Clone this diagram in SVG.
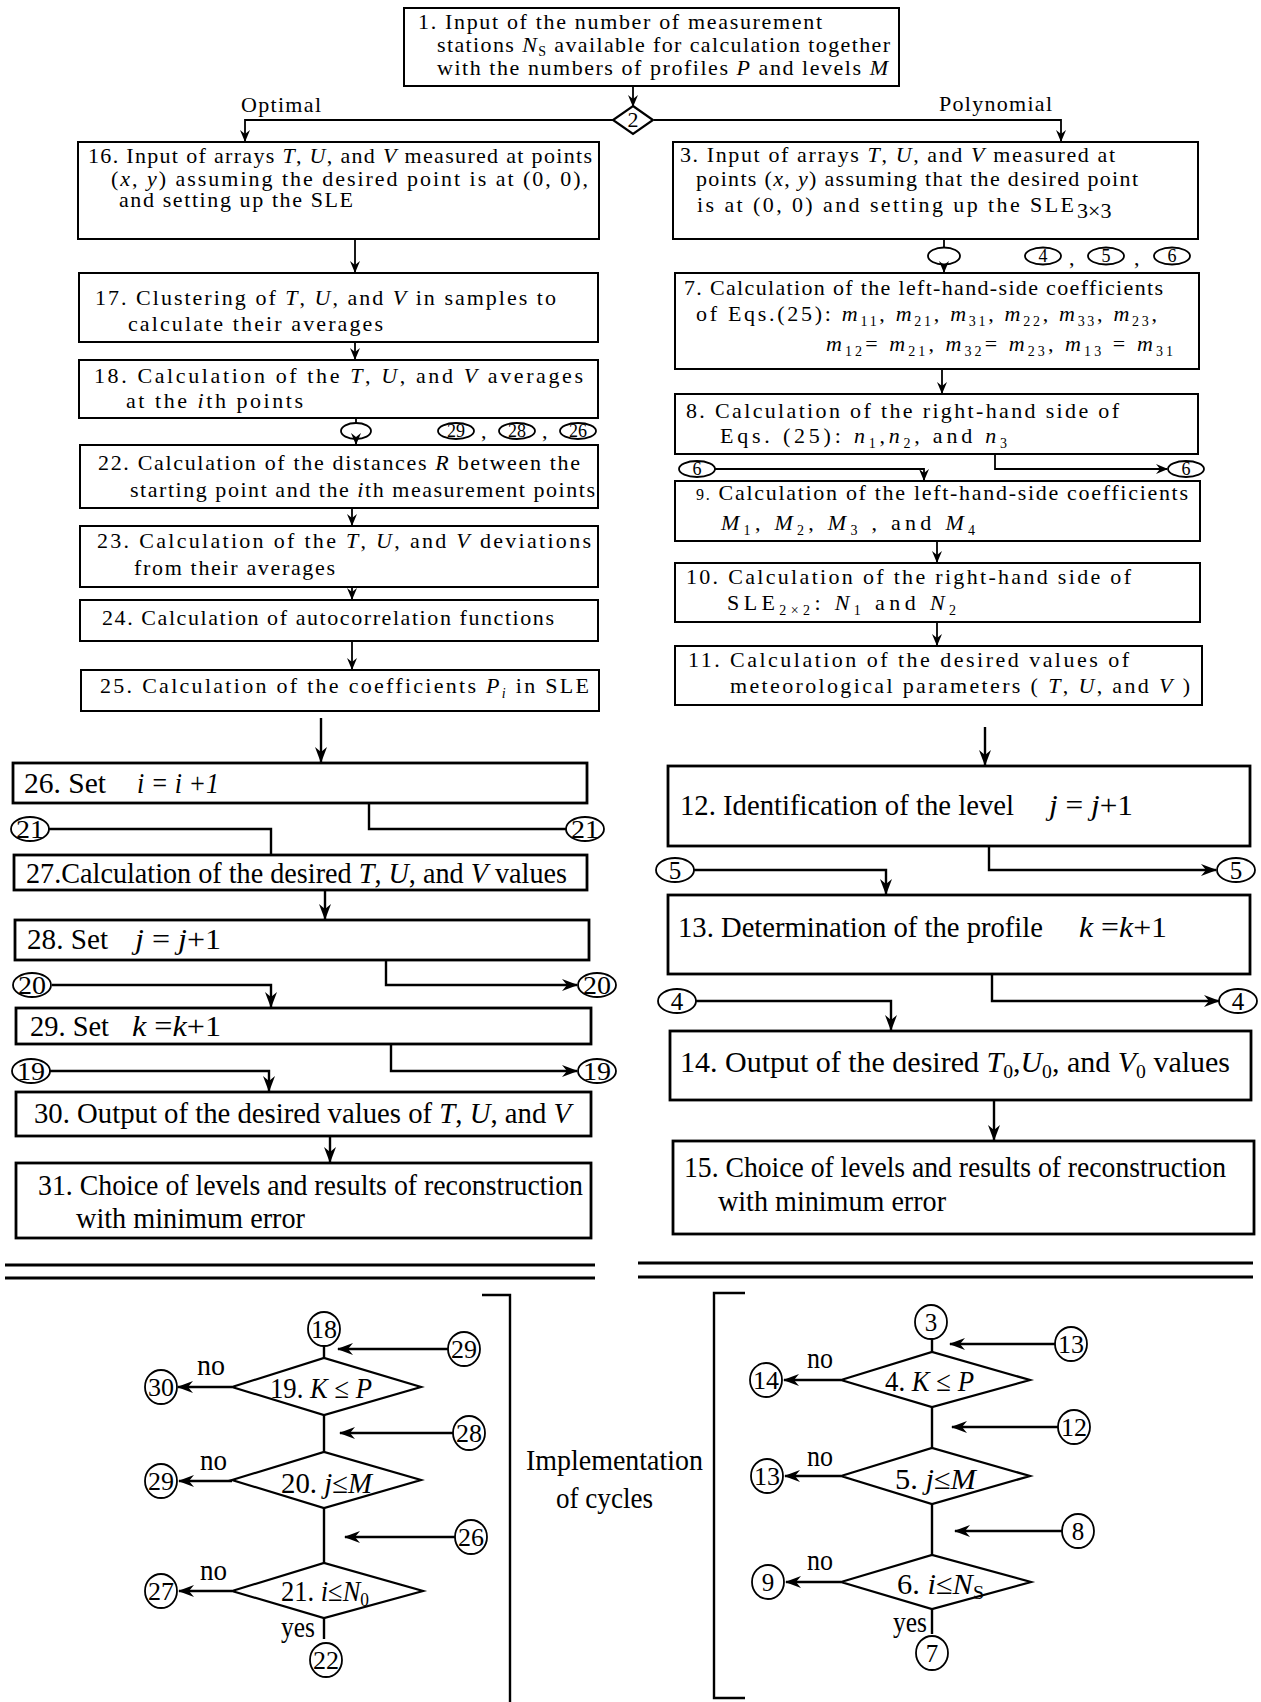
<svg xmlns="http://www.w3.org/2000/svg" width="1261" height="1702" viewBox="0 0 1261 1702" xml:space="preserve">
<style>
.b{fill:none;stroke:#000;stroke-width:2}
.bb{fill:none;stroke:#000;stroke-width:2.8}
.c{fill:none;stroke:#000;stroke-width:1.8}
.l{fill:none;stroke:#000;stroke-width:1.8}
.lb{fill:none;stroke:#000;stroke-width:2.4}
.d{fill:#fff;stroke:#000;stroke-width:2.2}
.t{font-family:"Liberation Serif",serif;font-size:22px;fill:#000}
.tl{font-family:"Liberation Serif",serif;font-size:29px;fill:#000}
.tc{font-family:"Liberation Serif",serif;font-size:25px;fill:#000;text-anchor:middle}
.ts{font-family:"Liberation Serif",serif;font-size:18px;fill:#000;text-anchor:middle}
.i{font-style:italic}
.s{font-size:14px}
.sl{font-size:19px}
</style>
<defs>
<marker id="a" markerWidth="12" markerHeight="10" refX="11" refY="5" orient="auto" markerUnits="userSpaceOnUse"><path d="M0,0 L12,5 L0,10 L4,5 z" fill="#000"/></marker>
<marker id="ab" markerWidth="16" markerHeight="12" refX="15" refY="6" orient="auto" markerUnits="userSpaceOnUse"><path d="M0,0 L16,6 L0,12 L5,6 z" fill="#000"/></marker>
</defs>

<g id="connectors">
<line class="l" x1="633" y1="86" x2="633" y2="106" marker-end="url(#a)"/>
<polyline class="l" points="613,120 245,120 245,141" marker-end="url(#a)"/>
<polyline class="l" points="654,120 1061,120 1061,141" marker-end="url(#a)"/>
<line class="l" x1="355" y1="239" x2="355" y2="272" marker-end="url(#a)"/>
<line class="l" x1="355" y1="342" x2="355" y2="359" marker-end="url(#a)"/>
<line class="l" x1="356" y1="418" x2="356" y2="423"/>
<line class="l" x1="356" y1="439" x2="356" y2="444" marker-end="url(#a)"/>
<line class="l" x1="352" y1="508" x2="352" y2="525" marker-end="url(#a)"/>
<line class="l" x1="352" y1="587" x2="352" y2="599" marker-end="url(#a)"/>
<line class="l" x1="352" y1="641" x2="352" y2="669" marker-end="url(#a)"/>
<line class="lb" x1="321" y1="718" x2="321" y2="762" marker-end="url(#ab)"/>
<polyline class="lb" points="49,829 271,829 271,855"/>
<polyline class="lb" points="369,803 369,829 566,829"/>
<line class="lb" x1="325" y1="890" x2="325" y2="919" marker-end="url(#ab)"/>
<polyline class="lb" points="52,985 271,985 271,1007" marker-end="url(#ab)"/>
<polyline class="lb" points="386,960 386,985 577,985" marker-end="url(#ab)"/>
<polyline class="lb" points="50,1071 269,1071 269,1091" marker-end="url(#ab)"/>
<polyline class="lb" points="391,1044 391,1071 577,1071" marker-end="url(#ab)"/>
<line class="lb" x1="330" y1="1136" x2="330" y2="1162" marker-end="url(#ab)"/>
<line class="l" x1="944" y1="239" x2="944" y2="247"/>
<line class="l" x1="944" y1="264" x2="944" y2="272" marker-end="url(#a)"/>
<line class="l" x1="942" y1="369" x2="942" y2="393" marker-end="url(#a)"/>
<polyline class="l" points="715,469 924,469 924,480" marker-end="url(#a)"/>
<polyline class="l" points="995,454 995,469 1167,469" marker-end="url(#a)"/>
<line class="l" x1="937" y1="541" x2="937" y2="562" marker-end="url(#a)"/>
<line class="l" x1="937" y1="622" x2="937" y2="645" marker-end="url(#a)"/>
<line class="lb" x1="985" y1="727" x2="985" y2="765" marker-end="url(#ab)"/>
<polyline class="lb" points="694,870 886,870 886,894" marker-end="url(#ab)"/>
<polyline class="lb" points="989,846 989,870 1216,870" marker-end="url(#ab)"/>
<polyline class="lb" points="696,1001 891,1001 891,1030" marker-end="url(#ab)"/>
<polyline class="lb" points="992,974 992,1001 1219,1001" marker-end="url(#ab)"/>
<line class="lb" x1="994" y1="1100" x2="994" y2="1140" marker-end="url(#ab)"/>
<line x1="5" y1="1265" x2="595" y2="1265" stroke="#000" stroke-width="3"/>
<line x1="5" y1="1278" x2="595" y2="1278" stroke="#000" stroke-width="3"/>
<line x1="638" y1="1263" x2="1253" y2="1263" stroke="#000" stroke-width="3"/>
<line x1="638" y1="1277" x2="1253" y2="1277" stroke="#000" stroke-width="3"/>
<polyline class="lb" points="482,1295 510,1295 510,1702"/>
<polyline class="lb" points="745,1293 714,1293 714,1698 745,1698"/>
<line class="lb" x1="324" y1="1346" x2="324" y2="1358"/>
<line class="lb" x1="324" y1="1415" x2="324" y2="1452"/>
<line class="lb" x1="324" y1="1508" x2="324" y2="1563"/>
<line class="lb" x1="324" y1="1618" x2="324" y2="1639"/>
<line class="lb" x1="448" y1="1349" x2="338" y2="1349" marker-end="url(#ab)"/>
<line class="lb" x1="453" y1="1433" x2="340" y2="1433" marker-end="url(#ab)"/>
<line class="lb" x1="455" y1="1537" x2="345" y2="1537" marker-end="url(#ab)"/>
<line class="lb" x1="232" y1="1387" x2="178" y2="1387" marker-end="url(#ab)"/>
<line class="lb" x1="232" y1="1481" x2="179" y2="1481" marker-end="url(#ab)"/>
<line class="lb" x1="232" y1="1591" x2="179" y2="1591" marker-end="url(#ab)"/>
<line class="lb" x1="932" y1="1339" x2="932" y2="1352"/>
<line class="lb" x1="932" y1="1407" x2="932" y2="1448"/>
<line class="lb" x1="932" y1="1504" x2="932" y2="1555"/>
<line class="lb" x1="932" y1="1609" x2="932" y2="1634"/>
<line class="lb" x1="1055" y1="1344" x2="950" y2="1344" marker-end="url(#ab)"/>
<line class="lb" x1="1058" y1="1427" x2="952" y2="1427" marker-end="url(#ab)"/>
<line class="lb" x1="1062" y1="1531" x2="955" y2="1531" marker-end="url(#ab)"/>
<line class="lb" x1="841" y1="1380" x2="784" y2="1380" marker-end="url(#ab)"/>
<line class="lb" x1="841" y1="1476" x2="785" y2="1476" marker-end="url(#ab)"/>
<line class="lb" x1="841" y1="1582" x2="786" y2="1582" marker-end="url(#ab)"/>
</g>

<text class="t" x="241" y="112" textLength="80">Optimal</text>
<text class="t" x="939" y="111" textLength="113">Polynomial</text>

<g id="n1"><rect class="b" x="404" y="8" width="495" height="78"/>
<text class="t" x="418" y="29" font-size="20" textLength="404">1. Input of  the number of  measurement</text>
<text class="t" x="437" y="52" font-size="20" textLength="453">stations <tspan class="i">N</tspan><tspan class="s" dy="4">S</tspan><tspan dy="-4"> available  for calculation together</tspan></text>
<text class="t" x="437" y="75" font-size="20" textLength="451">with the numbers of profiles <tspan class="i">P</tspan> and levels <tspan class="i">M</tspan></text></g>

<g id="n2"><polygon class="d" points="633,106 653,120 633,134 613,120"/><text class="t" x="633" y="127" text-anchor="middle" font-size="17">2</text></g>

<g id="n16"><rect class="b" x="78" y="142" width="521" height="97"/>
<text class="t" x="88" y="163" textLength="504">16. Input of arrays <tspan class="i">T</tspan>, <tspan class="i">U</tspan>, and <tspan class="i">V</tspan> measured at points</text>
<text class="t" x="111" y="186" textLength="477">(<tspan class="i">x</tspan>, <tspan class="i">y</tspan>) assuming the desired  point is at  (0, 0),</text>
<text class="t" x="119" y="207" textLength="234">and setting up the SLE</text></g>

<g id="n3"><rect class="b" x="673" y="142" width="525" height="97"/>
<text class="t" x="680" y="162" textLength="435">3. Input of arrays <tspan class="i">T</tspan>, <tspan class="i">U</tspan>, and <tspan class="i">V</tspan> measured at</text>
<text class="t" x="696" y="186" textLength="442">points (<tspan class="i">x</tspan>, <tspan class="i">y</tspan>) assuming that the desired point</text>
<text class="t" x="697" y="212" textLength="377">is at (0, 0) and setting up   the   SLE</text>
<text class="t" x="1077" y="218" font-size="16">3×3</text></g>

<g id="n17"><rect class="b" x="79" y="273" width="519" height="69"/>
<text class="t" x="95" y="305" textLength="461">17. Clustering of  <tspan class="i">T</tspan>, <tspan class="i">U</tspan>, and <tspan class="i">V</tspan>   in   samples   to</text>
<text class="t" x="128" y="331" textLength="255">calculate   their   averages</text></g>

<g id="n18"><rect class="b" x="79" y="360" width="519" height="58"/>
<text class="t" x="94" y="383" textLength="489">18. Calculation of  the <tspan class="i">T</tspan>,  <tspan class="i">U</tspan>,  and  <tspan class="i">V</tspan>   averages</text>
<text class="t" x="126" y="408" textLength="177">at the   <tspan class="i">i</tspan>th points</text></g>

<g id="j18"><ellipse class="c" cx="356" cy="431" rx="15" ry="8"/></g>
<g id="r29"><ellipse class="c" cx="456" cy="431" rx="18" ry="8"/><text class="ts" x="456" y="437">29</text></g>
<text class="t" x="481" y="438">,</text>
<g id="r28"><ellipse class="c" cx="517" cy="431" rx="18" ry="8"/><text class="ts" x="517" y="437">28</text></g>
<text class="t" x="542" y="438">,</text>
<g id="r26"><ellipse class="c" cx="578" cy="431" rx="18" ry="8"/><text class="ts" x="578" y="437">26</text></g>

<g id="n22"><rect class="b" x="80" y="445" width="518" height="63"/>
<text class="t" x="98" y="470" textLength="482">22. Calculation of the distances <tspan class="i">R</tspan>  between the</text>
<text class="t" x="130" y="497" textLength="465">starting point and the <tspan class="i">i</tspan>th measurement points</text></g>

<g id="n23"><rect class="b" x="80" y="526" width="518" height="61"/>
<text class="t" x="97" y="548" textLength="494">23. Calculation  of  the <tspan class="i">T</tspan>,  <tspan class="i">U</tspan>,  and  <tspan class="i">V</tspan>  deviations</text>
<text class="t" x="134" y="575" textLength="201">from their  averages</text></g>

<g id="n24"><rect class="b" x="80" y="600" width="518" height="41"/>
<text class="t" x="102" y="625" textLength="452">24. Calculation of autocorrelation  functions</text></g>

<g id="n25"><rect class="b" x="81" y="670" width="518" height="41"/>
<text class="t" x="100" y="693" textLength="489">25. Calculation  of  the coefficients <tspan class="i">P</tspan><tspan class="s i" dy="5">i</tspan><tspan dy="-5">  in  SLE</tspan></text></g>

<g id="n7"><rect class="b" x="675" y="273" width="524" height="96"/>
<text class="t" x="684" y="295" textLength="479">7. Calculation of the left-hand-side coefficients</text>
<text class="t" x="696" y="321" textLength="461">of Eqs.(25): <tspan class="i">m</tspan><tspan class="s" dy="5">11</tspan><tspan dy="-5">, </tspan><tspan class="i">m</tspan><tspan class="s" dy="5">21</tspan><tspan dy="-5">, </tspan><tspan class="i">m</tspan><tspan class="s" dy="5">31</tspan><tspan dy="-5">, </tspan><tspan class="i">m</tspan><tspan class="s" dy="5">22</tspan><tspan dy="-5">, </tspan><tspan class="i">m</tspan><tspan class="s" dy="5">33</tspan><tspan dy="-5">, </tspan><tspan class="i">m</tspan><tspan class="s" dy="5">23</tspan><tspan dy="-5">,</tspan></text>
<text class="t" x="826" y="351" textLength="347"><tspan class="i">m</tspan><tspan class="s" dy="5">12</tspan><tspan dy="-5">= </tspan><tspan class="i">m</tspan><tspan class="s" dy="5">21</tspan><tspan dy="-5">,   </tspan><tspan class="i">m</tspan><tspan class="s" dy="5">32</tspan><tspan dy="-5">= </tspan><tspan class="i">m</tspan><tspan class="s" dy="5">23</tspan><tspan dy="-5">,   </tspan><tspan class="i">m</tspan><tspan class="s" dy="5">13</tspan><tspan dy="-5"> = </tspan><tspan class="i">m</tspan><tspan class="s" dy="5">31</tspan></text></g>

<g id="j3"><ellipse class="c" cx="944" cy="256" rx="16" ry="8.5"/></g>
<g id="r4"><ellipse class="c" cx="1043" cy="256" rx="18" ry="8.5"/><text class="ts" x="1043" y="262">4</text></g>
<text class="t" x="1069" y="265">,</text>
<g id="r5"><ellipse class="c" cx="1106" cy="256" rx="18" ry="8.5"/><text class="ts" x="1106" y="262">5</text></g>
<text class="t" x="1134" y="265">,</text>
<g id="r6"><ellipse class="c" cx="1172" cy="256" rx="18" ry="8.5"/><text class="ts" x="1172" y="262">6</text></g>

<g id="n8"><rect class="b" x="675" y="394" width="523" height="60"/>
<text class="t" x="686" y="418" textLength="433">8. Calculation of the right-hand side of</text>
<text class="t" x="720" y="443" textLength="287">Eqs. (25):   <tspan class="i">n</tspan><tspan class="s" dy="5">1</tspan><tspan dy="-5">,</tspan><tspan class="i">n</tspan><tspan class="s" dy="5">2</tspan><tspan dy="-5">,  and  </tspan><tspan class="i">n</tspan><tspan class="s" dy="5">3</tspan></text></g>

<g id="c6l"><ellipse class="c" cx="697" cy="469" rx="18" ry="8"/><text class="ts" x="697" y="475">6</text></g>
<g id="c6r"><ellipse class="c" cx="1186" cy="469" rx="18" ry="8"/><text class="ts" x="1186" y="475">6</text></g>

<g id="n9"><rect class="b" x="675" y="481" width="525" height="60"/>
<text class="t" x="696" y="500" textLength="492"><tspan font-size="16">9.</tspan> Calculation of the  left-hand-side  coefficients</text>
<text class="t" x="721" y="530" textLength="254"><tspan class="i">M</tspan><tspan class="s" dy="5">1</tspan><tspan dy="-5">, </tspan><tspan class="i">M</tspan><tspan class="s" dy="5">2</tspan><tspan dy="-5">, </tspan><tspan class="i">M</tspan><tspan class="s" dy="5">3</tspan><tspan dy="-5"> ,   and   </tspan><tspan class="i">M</tspan><tspan class="s" dy="5">4</tspan></text></g>

<g id="n10"><rect class="b" x="675" y="563" width="525" height="59"/>
<text class="t" x="686" y="584" textLength="445">10. Calculation of the right-hand side of</text>
<text class="t" x="727" y="610" textLength="229">SLE<tspan class="s" dy="5">2×2</tspan><tspan dy="-5">: </tspan><tspan class="i">N</tspan><tspan class="s" dy="5">1</tspan><tspan dy="-5">   and  </tspan><tspan class="i">N</tspan><tspan class="s" dy="5">2</tspan></text></g>

<g id="n11"><rect class="b" x="675" y="646" width="527" height="59"/>
<text class="t" x="688" y="667" textLength="441">11. Calculation of the desired  values of</text>
<text class="t" x="730" y="693" textLength="460">meteorological parameters ( <tspan class="i">T</tspan>, <tspan class="i">U</tspan>,  and  <tspan class="i">V</tspan> )</text></g>

<g id="n26"><rect class="bb" x="13" y="763" width="574" height="40"/>
<text class="tl" x="24" y="793" textLength="82" lengthAdjust="spacingAndGlyphs">26.  Set</text>
<text class="tl i" x="137" y="793" textLength="82" lengthAdjust="spacingAndGlyphs">i = i +1</text></g>
<g id="c21l"><ellipse class="c" cx="30" cy="829" rx="19" ry="12"/><text class="tc" x="30" y="838" textLength="28" lengthAdjust="spacingAndGlyphs">21</text></g>
<g id="c21r"><ellipse class="c" cx="585" cy="829" rx="19" ry="12"/><text class="tc" x="585" y="838" textLength="28" lengthAdjust="spacingAndGlyphs">21</text></g>

<g id="n27"><rect class="bb" x="14" y="855" width="573" height="35"/>
<text class="tl" x="26" y="883" textLength="541" lengthAdjust="spacingAndGlyphs">27.Calculation of the desired  <tspan class="i">T</tspan>, <tspan class="i">U</tspan>, and <tspan class="i">V</tspan> values</text></g>

<g id="n28"><rect class="bb" x="15" y="920" width="574" height="40"/>
<text class="tl" x="27" y="949" textLength="81" lengthAdjust="spacingAndGlyphs">28.  Set</text>
<text class="tl" x="135" y="949" textLength="86" lengthAdjust="spacingAndGlyphs"><tspan class="i">j</tspan> = <tspan class="i">j</tspan>+1</text></g>
<g id="c20l"><ellipse class="c" cx="32" cy="985" rx="19" ry="12"/><text class="tc" x="32" y="994" textLength="28" lengthAdjust="spacingAndGlyphs">20</text></g>
<g id="c20r"><ellipse class="c" cx="597" cy="985" rx="19" ry="12"/><text class="tc" x="597" y="994" textLength="28" lengthAdjust="spacingAndGlyphs">20</text></g>

<g id="n29"><rect class="bb" x="16" y="1008" width="575" height="36"/>
<text class="tl" x="30" y="1036" textLength="79" lengthAdjust="spacingAndGlyphs">29.  Set</text>
<text class="tl" x="132" y="1036" textLength="89" lengthAdjust="spacingAndGlyphs"><tspan class="i">k</tspan> =<tspan class="i">k</tspan>+1</text></g>
<g id="c19l"><ellipse class="c" cx="31" cy="1071" rx="19" ry="12"/><text class="tc" x="31" y="1080" textLength="28" lengthAdjust="spacingAndGlyphs">19</text></g>
<g id="c19r"><ellipse class="c" cx="597" cy="1071" rx="19" ry="12"/><text class="tc" x="597" y="1080" textLength="28" lengthAdjust="spacingAndGlyphs">19</text></g>

<g id="n30"><rect class="bb" x="16" y="1092" width="575" height="44"/>
<text class="tl" x="34" y="1123" textLength="537" lengthAdjust="spacingAndGlyphs">30. Output of the desired values  of  <tspan class="i">T</tspan>, <tspan class="i">U</tspan>, and <tspan class="i">V</tspan></text></g>

<g id="n31"><rect class="bb" x="16" y="1163" width="575" height="75"/>
<text class="tl" x="38" y="1195" textLength="545" lengthAdjust="spacingAndGlyphs">31. Choice of levels and results of reconstruction</text>
<text class="tl" x="76" y="1228" textLength="229" lengthAdjust="spacingAndGlyphs">with minimum error</text></g>

<g id="n12"><rect class="bb" x="668" y="766" width="582" height="80"/>
<text class="tl" x="680" y="815" textLength="334" lengthAdjust="spacingAndGlyphs">12.  Identification of the  level</text>
<text class="tl" x="1049" y="815" textLength="84" lengthAdjust="spacingAndGlyphs"><tspan class="i">j</tspan> = <tspan class="i">j</tspan>+1</text></g>
<g id="c5l"><ellipse class="c" cx="675" cy="870" rx="19" ry="12"/><text class="tc" x="675" y="879">5</text></g>
<g id="c5r"><ellipse class="c" cx="1236" cy="870" rx="19" ry="12"/><text class="tc" x="1236" y="879">5</text></g>

<g id="n13"><rect class="bb" x="668" y="895" width="582" height="79"/>
<text class="tl" x="678" y="937" textLength="365" lengthAdjust="spacingAndGlyphs">13. Determination of the  profile</text>
<text class="tl" x="1079" y="937" textLength="88" lengthAdjust="spacingAndGlyphs"><tspan class="i">k</tspan> =<tspan class="i">k</tspan>+1</text></g>
<g id="c4l"><ellipse class="c" cx="677" cy="1001" rx="19" ry="12"/><text class="tc" x="677" y="1010">4</text></g>
<g id="c4r"><ellipse class="c" cx="1238" cy="1001" rx="19" ry="12"/><text class="tc" x="1238" y="1010">4</text></g>

<g id="n14"><rect class="bb" x="670" y="1031" width="581" height="69"/>
<text class="tl" x="680" y="1072" textLength="550" lengthAdjust="spacingAndGlyphs">14. Output of the desired  <tspan class="i">T</tspan><tspan class="sl" dy="6">0</tspan><tspan dy="-6">,</tspan><tspan class="i">U</tspan><tspan class="sl" dy="6">0</tspan><tspan dy="-6">, and   </tspan><tspan class="i">V</tspan><tspan class="sl" dy="6">0</tspan><tspan dy="-6">  values</tspan></text></g>

<g id="n15"><rect class="bb" x="673" y="1141" width="581" height="93"/>
<text class="tl" x="684" y="1177" textLength="542" lengthAdjust="spacingAndGlyphs">15. Choice of levels and results of reconstruction</text>
<text class="tl" x="718" y="1211" textLength="228" lengthAdjust="spacingAndGlyphs">with minimum error</text></g>

<g id="c18"><ellipse class="c" cx="324" cy="1329" rx="16" ry="17"/><text class="tc" x="324" y="1338" textLength="26" lengthAdjust="spacingAndGlyphs">18</text></g>
<g id="c29b"><ellipse class="c" cx="464" cy="1349" rx="16" ry="17"/><text class="tc" x="464" y="1358" textLength="26" lengthAdjust="spacingAndGlyphs">29</text></g>
<g id="n19"><polygon class="d" points="232,1387 324,1358 421,1387 324,1415"/>
<text class="tl" x="270" y="1398" textLength="102" lengthAdjust="spacingAndGlyphs">19. <tspan class="i">K</tspan> ≤ <tspan class="i">P</tspan></text></g>
<g id="c30"><ellipse class="c" cx="161" cy="1387" rx="16" ry="17"/><text class="tc" x="161" y="1396" textLength="26" lengthAdjust="spacingAndGlyphs">30</text></g>
<text class="tl" x="197" y="1375" textLength="28" lengthAdjust="spacingAndGlyphs">no</text>
<g id="c28b"><ellipse class="c" cx="469" cy="1433" rx="16" ry="17"/><text class="tc" x="469" y="1442" textLength="26" lengthAdjust="spacingAndGlyphs">28</text></g>
<g id="n20"><polygon class="d" points="232,1480 324,1452 421,1480 324,1508"/>
<text class="tl" x="281" y="1493" textLength="91" lengthAdjust="spacingAndGlyphs">20. <tspan class="i">j</tspan>≤<tspan class="i">M</tspan></text></g>
<g id="c29c"><ellipse class="c" cx="161" cy="1481" rx="16" ry="17"/><text class="tc" x="161" y="1490" textLength="26" lengthAdjust="spacingAndGlyphs">29</text></g>
<text class="tl" x="200" y="1470" textLength="27" lengthAdjust="spacingAndGlyphs">no</text>
<g id="c26b"><ellipse class="c" cx="471" cy="1537" rx="16" ry="17"/><text class="tc" x="471" y="1546" textLength="26" lengthAdjust="spacingAndGlyphs">26</text></g>
<g id="n21"><polygon class="d" points="232,1591 324,1563 423,1591 324,1618"/>
<text class="tl" x="281" y="1601" textLength="88" lengthAdjust="spacingAndGlyphs">21. <tspan class="i">i</tspan>≤<tspan class="i">N</tspan><tspan class="sl" dy="5">0</tspan></text></g>
<g id="c27"><ellipse class="c" cx="161" cy="1591" rx="16" ry="17"/><text class="tc" x="161" y="1600" textLength="26" lengthAdjust="spacingAndGlyphs">27</text></g>
<text class="tl" x="200" y="1580" textLength="27" lengthAdjust="spacingAndGlyphs">no</text>
<text class="tl" x="281" y="1637" textLength="34" lengthAdjust="spacingAndGlyphs">yes</text>
<g id="c22"><ellipse class="c" cx="326" cy="1660" rx="16" ry="17"/><text class="tc" x="326" y="1669" textLength="26" lengthAdjust="spacingAndGlyphs">22</text></g>

<text class="tl" x="526" y="1470" textLength="177" lengthAdjust="spacingAndGlyphs">Implementation</text>
<text class="tl" x="556" y="1508" textLength="97" lengthAdjust="spacingAndGlyphs">of cycles</text>

<g id="c3"><ellipse class="c" cx="931" cy="1322" rx="16" ry="17"/><text class="tc" x="931" y="1331">3</text></g>
<g id="c13a"><ellipse class="c" cx="1071" cy="1344" rx="16" ry="17"/><text class="tc" x="1071" y="1353" textLength="26" lengthAdjust="spacingAndGlyphs">13</text></g>
<g id="n4"><polygon class="d" points="841,1380 932,1352 1030,1380 932,1407"/>
<text class="tl" x="885" y="1391" textLength="89" lengthAdjust="spacingAndGlyphs">4. <tspan class="i">K</tspan> ≤ <tspan class="i">P</tspan></text></g>
<g id="c14"><ellipse class="c" cx="766" cy="1380" rx="16" ry="17"/><text class="tc" x="766" y="1389" textLength="26" lengthAdjust="spacingAndGlyphs">14</text></g>
<text class="tl" x="807" y="1368" textLength="26" lengthAdjust="spacingAndGlyphs">no</text>
<g id="c12"><ellipse class="c" cx="1074" cy="1427" rx="16" ry="17"/><text class="tc" x="1074" y="1436" textLength="26" lengthAdjust="spacingAndGlyphs">12</text></g>
<g id="n5"><polygon class="d" points="841,1476 932,1448 1030,1476 932,1504"/>
<text class="tl" x="895" y="1489" textLength="81" lengthAdjust="spacingAndGlyphs">5. <tspan class="i">j</tspan>≤<tspan class="i">M</tspan></text></g>
<g id="c13b"><ellipse class="c" cx="767" cy="1476" rx="16" ry="17"/><text class="tc" x="767" y="1485" textLength="26" lengthAdjust="spacingAndGlyphs">13</text></g>
<text class="tl" x="807" y="1466" textLength="26" lengthAdjust="spacingAndGlyphs">no</text>
<g id="c8"><ellipse class="c" cx="1078" cy="1531" rx="16" ry="17"/><text class="tc" x="1078" y="1540">8</text></g>
<g id="n6"><polygon class="d" points="841,1582 932,1555 1031,1582 932,1609"/>
<text class="tl" x="897" y="1594" textLength="87" lengthAdjust="spacingAndGlyphs">6. <tspan class="i">i</tspan>≤<tspan class="i">N</tspan><tspan class="sl" dy="5">S</tspan></text></g>
<g id="c9"><ellipse class="c" cx="768" cy="1582" rx="16" ry="17"/><text class="tc" x="768" y="1591">9</text></g>
<text class="tl" x="807" y="1570" textLength="26" lengthAdjust="spacingAndGlyphs">no</text>
<text class="tl" x="893" y="1632" textLength="34" lengthAdjust="spacingAndGlyphs">yes</text>
<g id="c7"><ellipse class="c" cx="932" cy="1653" rx="16" ry="17"/><text class="tc" x="932" y="1662">7</text></g>
</svg>
